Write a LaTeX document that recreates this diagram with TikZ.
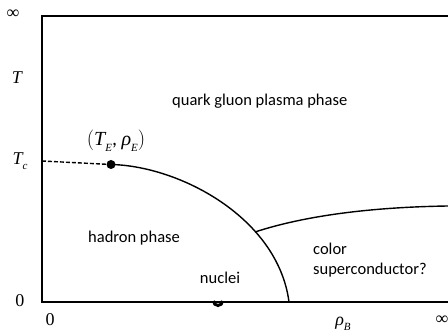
\documentclass[tikz,border=0pt]{standalone}
\usepackage{fontspec}
\setmainfont{Carlito}
\newfontfamily\tms{Liberation Serif}
\newcommand{\mi}[1]{{\tms\itshape #1}}
\newcommand{\msub}[1]{\raisebox{-0.3em}{\fontsize{11}{11}\selectfont\tms\itshape #1}}
\begin{document}
\begin{tikzpicture}[x=1pt,y=-1pt,
  axisline/.style={line width=1.4pt,black},
  bound/.style={line width=1.4pt,black},
  lbl/.style={font=\fontsize{16.5}{20}\selectfont,inner sep=0pt},
  mlbl/.style={font=\fontsize{18}{20}\selectfont,inner sep=0pt}]
\useasboundingbox (0,0) rectangle (448,336);
\coordinate (tl) at (42,16);
\coordinate (tr) at (448,16);
\coordinate (bl) at (42,302);
\coordinate (br) at (448,302);
\draw[axisline] (tr) -- (tl) -- (bl) -- (br);
\coordinate (tc) at (42,161);
\coordinate (E) at (111,164.5);
\coordinate (hb) at (289,302);
\coordinate (cs) at (255,232);
\coordinate (cr) at (448,206);
\draw[bound,dash pattern=on 4pt off 2pt] (tc) -- (E);
\draw[bound] (E) .. controls (180,166) and (278,218) .. (hb);
\draw[bound] (cs) .. controls (310,214) and (380,207) .. (cr);
\fill (E) circle (4.5);
\coordinate (nuc) at (218,301);
\draw[line width=3pt] ([xshift=-4.5pt]nuc) arc (180:0:4.5);
\node[mlbl] (inf1) at (13,14) {\tms ∞};
\node[mlbl] (T) at (17,78) {\mi{T}};
\node[mlbl] (Tc) at (20,161) {\mi{T}\msub{c}};
\node[mlbl] (z1) at (20,301) {\tms 0};
\node[mlbl] (z2) at (50,320) {\tms 0};
\node[mlbl] (rb) at (343,324) {\mi{ρ}\msub{B}};
\node[mlbl] (inf2) at (442,320) {\tms ∞};
\node[mlbl,font=\fontsize{20}{22}\selectfont] (TE) at (116,141) {$\left(\mbox{\mi{T}\msub{E}, \mi{ρ}\msub{E}}\right)$};
\node[lbl,anchor=west] (qgp) at (172,101) {quark gluon plasma phase};
\node[lbl,anchor=west] (had) at (88,238) {hadron phase};
\node[lbl] (nl) at (220,278) {nuclei};
\node[lbl,align=left,anchor=west] (csc) at (313,260) {color\\superconductor?};
\end{tikzpicture}
\end{document}
